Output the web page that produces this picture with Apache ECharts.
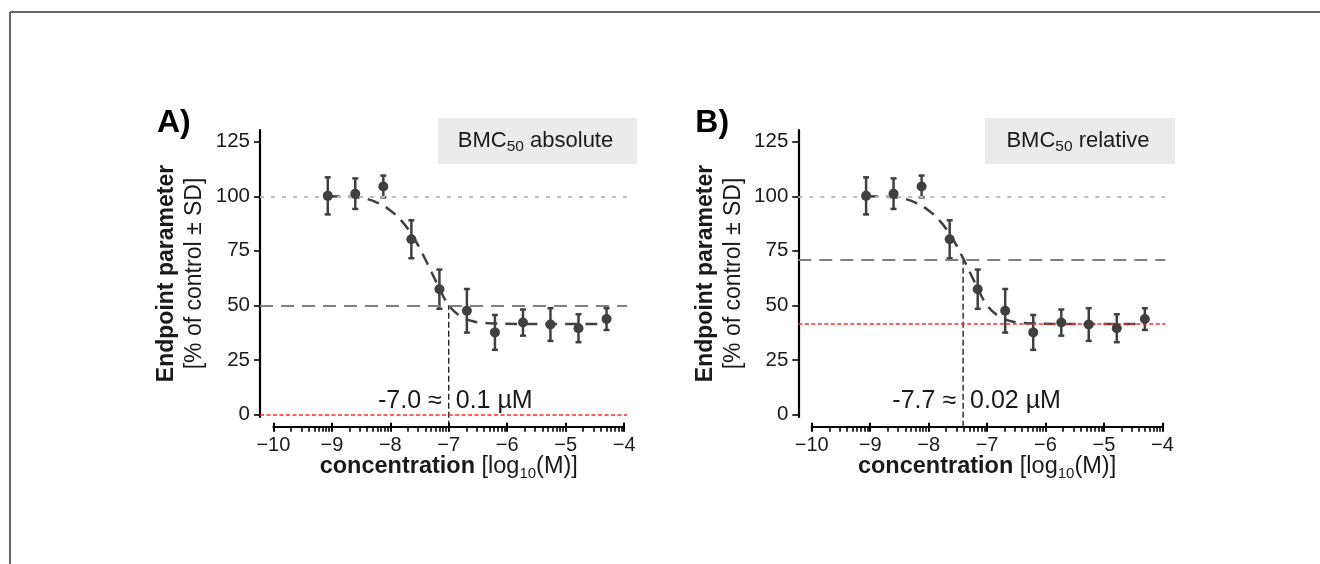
<!DOCTYPE html>
<html><head><meta charset="utf-8">
<script src="https://cdn.jsdelivr.net/npm/echarts@6/dist/echarts.min.js"></script>
<style>html,body{margin:0;padding:0;background:#fff}#c{width:1320px;height:564px}</style>
</head><body><div id="c"></div>
<script>
// ---- data ----
const conc = [-9.07, -8.60, -8.12, -7.64, -7.16, -6.69, -6.21, -5.73, -5.26, -4.78, -4.30];
const meanPct = [100.2, 101.2, 104.5, 80.3, 57.4, 47.5, 37.6, 42.1, 41.2, 39.5, 43.7];
const sdPct = [8.5, 7.0, 5.0, 8.7, 9.0, 10.0, 8.0, 6.0, 7.5, 6.4, 5.0];
const fitX = [-9.07, -8.8, -8.6, -8.4, -8.2, -8.0, -7.8, -7.6, -7.4, -7.2, -7.0, -6.8, -6.6, -6.4, -6.2, -5.8, -5.0, -4.30];
const fitY = [100.0, 99.9, 99.6, 98.8, 96.8, 93.5, 88.5, 81.0, 71.0, 60.0, 50.0, 45.0, 42.8, 42.0, 41.7, 41.5, 41.5, 41.5];
const panelLabels = ['A)', 'B)'];
const stripWords = ['absolute', 'relative'];
const controlLevel = 100;
const bmcLevels = [50, 70.75];
const lowerRef = [0, 41.5];
const bmcLogConc = [-7.0, -7.41];
const annoLeft = ['-7.0 ≈', '-7.7 ≈'];
const annoRight = ['0.1 µM', '0.02 µM'];
const annoY = 6;
const xTicks = [-10, -9, -8, -7, -6, -5, -4];
const yTicks = [0, 25, 50, 75, 100, 125];
const decades = [-10, -9, -8, -7, -6, -5];
const minorTicks = [];
decades.forEach(d => { for (let k = 2; k <= 9; k++) minorTicks.push(d + Math.log10(k)); });

// ---- styling / layout ----
const FONT = "'Liberation Sans', Arial, Helvetica, sans-serif";
const INK = '#1a1a1a';
const PT = '#404040';
const OFF = 538.3;
const X_PANEL = [-10.23, -3.95];
const Y_PANEL = [-1.2, 130.4];
const X_FLOOR = -5.7; // where the vertical BMC line meets the x axis line

const grid = [], xAxis = [], yAxis = [], series = [], graphic = [];

graphic.push({type: 'line', shape: {x1: 10, y1: 12, x2: 1320, y2: 12}, style: {stroke: '#666', lineWidth: 2}, silent: true});
graphic.push({type: 'line', shape: {x1: 10, y1: 12, x2: 10, y2: 564}, style: {stroke: '#666', lineWidth: 2}, silent: true});

const stripBoxes = [{x: 438, w: 199}, {x: 985, w: 190}];

for (let i = 0; i < 2; i++) {
  const dx = i * OFF;
  grid.push({left: 260 + dx, top: 130, width: 367, height: 287});
  grid.push({left: 273.4 + dx, top: 424, width: 350.7, height: 2.7});
  const g0 = 2 * i, g1 = 2 * i + 1;
  const xb = 4 * i;
  xAxis.push({type: 'value', gridIndex: g0, min: X_PANEL[0], max: X_PANEL[1], show: false});
  xAxis.push({
    type: 'value', gridIndex: g1, position: 'bottom', min: xTicks[0], max: xTicks[xTicks.length - 1], interval: 1,
    axisLine: {show: true, onZero: false, lineStyle: {color: '#000', width: 2.2}},
    axisTick: {show: true, length: 5, lineStyle: {color: '#000', width: 2}},
    axisLabel: {show: true, margin: 9, color: INK, fontSize: 20, fontFamily: FONT,
      formatter: v => String(v).replace('-', '\u2212')},
    splitLine: {show: false},
    name: '{b|concentration} [log{s|10}(M)]', nameLocation: 'middle', nameGap: 27, nameMoveOverlap: false,
    nameTextStyle: {fontSize: 23.5, fontFamily: FONT, color: INK, lineHeight: 26,
      rich: {b: {fontSize: 23.5, fontWeight: 'bold', fontFamily: FONT, color: INK, lineHeight: 26},
             s: {fontSize: 15, fontFamily: FONT, color: INK, padding: [14, 0, 0, 0]}}}
  });
  xAxis.push({
    type: 'value', gridIndex: g1, position: 'bottom', min: xTicks[0], max: xTicks[xTicks.length - 1],
    axisLine: {show: false}, axisLabel: {show: false}, splitLine: {show: false},
    axisTick: {show: true, length: 5, customValues: minorTicks, lineStyle: {color: '#000', width: 1.6}}
  });
  xAxis.push({
    type: 'value', gridIndex: g1, position: 'bottom', min: xTicks[0], max: xTicks[xTicks.length - 1], interval: 1,
    axisLine: {show: false}, axisLabel: {show: false}, splitLine: {show: false},
    axisTick: {show: true, inside: true, length: 4, lineStyle: {color: '#000', width: 2}}
  });
  yAxis.push({
    type: 'value', gridIndex: g0, min: Y_PANEL[0], max: Y_PANEL[1],
    axisLine: {show: true, onZero: false, lineStyle: {color: '#000', width: 2.2}},
    axisTick: {show: true, length: 6, customValues: yTicks, lineStyle: {color: '#000', width: 1.6}},
    axisLabel: {show: true, margin: 10, customValues: yTicks, color: INK, fontSize: 20.5, fontFamily: FONT},
    splitLine: {show: false},
    name: '{b|Endpoint parameter}\n{n|[% of control ± SD]}', nameLocation: 'middle', nameRotate: 90, nameGap: 51,
    nameMoveOverlap: false,
    nameTextStyle: {fontSize: 23, fontFamily: FONT, color: INK, lineHeight: 28, align: 'center',
      rich: {b: {fontSize: 23, fontWeight: 'bold', fontFamily: FONT, color: INK, lineHeight: 28},
             n: {fontSize: 23, fontFamily: FONT, color: INK, lineHeight: 28}}}
  });
  yAxis.push({type: 'value', gridIndex: g1, min: 0, max: 1, show: false});

  const xi = xb, yi = 2 * i;
  series.push({
    type: 'line', xAxisIndex: xi, yAxisIndex: yi, data: [], z: 1, silent: true,
    markLine: {
      silent: true, symbol: ['none', 'none'], label: {show: false}, animation: false,
      data: [
        {yAxis: controlLevel, lineStyle: {color: '#bdbdbd', width: 2, type: [4, 7]}},
        {yAxis: bmcLevels[i], lineStyle: {color: '#808080', width: 2, type: [13, 8]}},
        {yAxis: lowerRef[i], lineStyle: {color: '#ff2a2a', width: 1.5, type: [4, 2.5]}}
      ]
    }
  });
  series.push({
    type: 'line', xAxisIndex: xi, yAxisIndex: yi, clip: false, z: 2, silent: true,
    showSymbol: false, symbol: 'none',
    data: [[bmcLogConc[i], X_FLOOR], [bmcLogConc[i], bmcLevels[i]]],
    lineStyle: {color: '#000', width: 1.2, type: [6, 3]}
  });
  series.push({
    type: 'line', xAxisIndex: xi, yAxisIndex: yi, smooth: 0.4, symbol: 'none', z: 3, silent: true,
    data: fitX.map((x, k) => [x, fitY[k]]),
    lineStyle: {color: PT, width: 2.5, type: [12, 8]}
  });
  series.push({
    type: 'custom', xAxisIndex: xi, yAxisIndex: yi, z: 4, silent: true,
    data: conc.map((x, k) => [x, meanPct[k], sdPct[k]]),
    renderItem: (params, api) => {
      const x = api.value(0), m = api.value(1), s = api.value(2);
      const t = api.coord([x, m + s]), b = api.coord([x, m - s]);
      const hw = 3, st = {stroke: PT, lineWidth: 2.5};
      return {type: 'group', children: [
        {type: 'line', shape: {x1: t[0], y1: t[1], x2: b[0], y2: b[1]}, style: st},
        {type: 'line', shape: {x1: t[0] - hw, y1: t[1], x2: t[0] + hw, y2: t[1]}, style: st},
        {type: 'line', shape: {x1: b[0] - hw, y1: b[1], x2: b[0] + hw, y2: b[1]}, style: st}
      ]};
    }
  });
  series.push({
    type: 'scatter', xAxisIndex: xi, yAxisIndex: yi, z: 5, silent: true, symbolSize: 10,
    itemStyle: {color: PT, opacity: 1},
    data: conc.map((x, k) => [x, meanPct[k]])
  });
  series.push({
    type: 'custom', xAxisIndex: xi, yAxisIndex: yi, z: 6, silent: true, clip: false,
    data: [[bmcLogConc[i], annoY]],
    renderItem: (params, api) => {
      const p = api.coord([api.value(0), api.value(1)]);
      const ts = {fontSize: 25, fontFamily: FONT, fill: INK, verticalAlign: 'middle'};
      return {type: 'group', children: [
        {type: 'text', x: p[0] - 7, y: p[1], style: Object.assign({text: annoLeft[i], align: 'right'}, ts)},
        {type: 'text', x: p[0] + 7, y: p[1], style: Object.assign({text: annoRight[i], align: 'left'}, ts)}
      ]};
    }
  });

  graphic.push({type: 'text', x: 157 + dx, y: 123, silent: true,
    style: {text: panelLabels[i], fontSize: 32, fontWeight: 'bold', fontFamily: FONT, fill: '#000', verticalAlign: 'middle'}});
  const sb = stripBoxes[i];
  graphic.push({type: 'rect', silent: true, shape: {x: sb.x, y: 118, width: sb.w, height: 46}, style: {fill: '#ebebeb'}});
  graphic.push({type: 'text', silent: true, x: sb.x + sb.w / 2 - 2, y: 141,
    style: {text: '{n|BMC}{s|50}{n| ' + stripWords[i] + '}', align: 'center', verticalAlign: 'middle',
      rich: {n: {fontSize: 22, fontFamily: FONT, fill: INK, lineHeight: 26},
             s: {fontSize: 15.5, fontFamily: FONT, fill: INK, padding: [12, 0, 0, 0]}}}});
}

const chart = echarts.init(document.getElementById('c'), null, {renderer: 'canvas'});
chart.setOption({animation: false, backgroundColor: '#fff', grid, xAxis, yAxis, series, graphic});
</script>
</body></html>
